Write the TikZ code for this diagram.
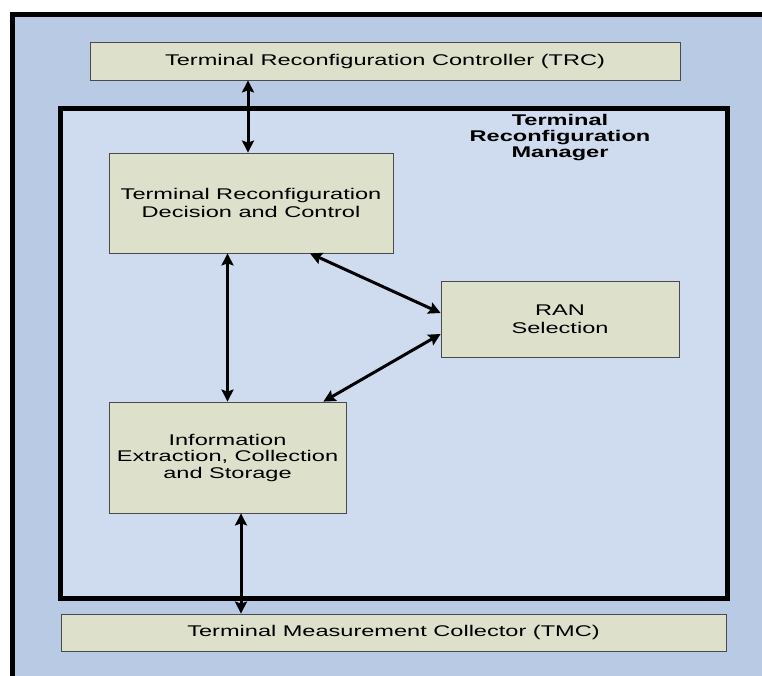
\documentclass[tikz,border=0pt]{standalone}
\usepackage{fontspec}
\setmainfont[FakeStretch=1.52]{Liberation Sans}
\usetikzlibrary{arrows.meta}
\definecolor{outerfill}{HTML}{B9CBE4}
\definecolor{mgrfill}{HTML}{CFDBEE}
\definecolor{boxfill}{HTML}{DDE0CB}
\definecolor{boxline}{HTML}{4A4A4A}
\tikzset{
  block/.style={draw=boxline, line width=0.8pt, fill=boxfill, rectangle,
    align=center, inner sep=0pt, font=\fontsize{15.5}{17.8}\selectfont},
  link/.style={line width=3pt, {Stealth[length=12pt,width=12pt,inset=2pt]}-{Stealth[length=12pt,width=12pt,inset=2pt]}},
}
\begin{document}
\begin{tikzpicture}[x=1pt, y=-1pt]
  \useasboundingbox (0,0) rectangle (762,675);
  \clip (0,0) rectangle (762,675);
  \fill[white] (0,0) rectangle (762,675);
  % outer frame, running past the right and bottom edges
  \draw[line width=5pt, fill=outerfill] (12,14.5) rectangle (790,700);

  % manager container
  \node[draw, line width=5pt, fill=mgrfill, minimum width=667pt, minimum height=490pt, inner sep=0pt] (mgr) at (393.5,353) {};
  \node[align=center, font=\bfseries\fontsize{15.5}{16}\selectfont] (title) at (560,138) {Terminal\\Reconfiguration\\Manager};

  % blocks
  \node[block, minimum width=590pt, minimum height=38pt] (trc) at (385,61) {Terminal Reconfiguration Controller (TRC)};
  \node[block, minimum width=284pt, minimum height=100pt] (dec) at (251,203) {Terminal Reconfiguration\\Decision and Control};
  \node[block, minimum width=238pt, minimum height=76pt] (ran) at (560,319) {RAN\\Selection};
  \node[block, minimum width=237pt, minimum height=111pt, font=\fontsize{15.5}{16.5}\selectfont] (info) at (227.5,457.5) {Information\\Extraction, Collection\\and Storage};
  \node[block, minimum width=665pt, minimum height=37pt] (tmc) at (393.5,632.5) {Terminal Measurement Collector (TMC)};

  % connectors
  \draw[link] ([xshift=-3pt]trc.south -| dec.north) -- ([xshift=-3pt]dec.north);
  \draw[link] (dec.south -| info.north) -- (info.north);
  \draw[link] ([xshift=59pt]dec.south) -- ([yshift=6pt]ran.west);
  \draw[link] ([yshift=-15pt]ran.west) -- ([xshift=-23pt]info.north east);
  \draw[link] ([xshift=13.5pt]info.south) -- ([xshift=13.5pt]info.south |- tmc.north);
\end{tikzpicture}
\end{document}
